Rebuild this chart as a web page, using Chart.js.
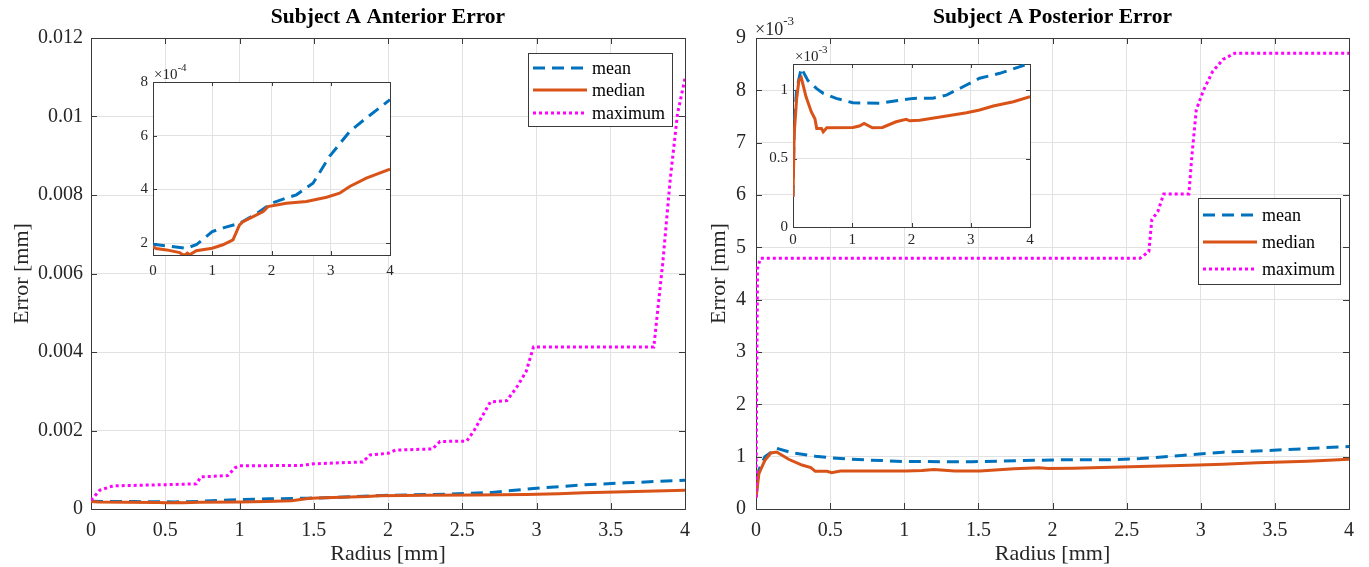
<!DOCTYPE html>
<html><head><meta charset="utf-8">
<script src="https://cdn.jsdelivr.net/npm/chart.js@4.4.1/dist/chart.umd.min.js"></script>
<style>
html,body{margin:0;padding:0;background:#fff;}
#wrap{position:relative;width:1369px;height:567px;overflow:hidden;background:#fff;}
canvas{position:absolute;}
</style></head><body>
<div id="wrap">
<canvas id="antMain" width="700" height="567" style="left:0;top:0"></canvas>
<canvas id="postMain" width="679" height="567" style="left:690px;top:0"></canvas>
<canvas id="antInset" width="290" height="226" style="left:113px;top:56px"></canvas>
<canvas id="postInset" width="279" height="212" style="left:763px;top:40px"></canvas>
</div>
<script>
// ---------- DATA (radius in mm, error in mm) ----------
const seriesNames = ['mean', 'median', 'maximum'];
const titles = ['Subject A Anterior Error', 'Subject A Posterior Error'];
const xAxisTitle = 'Radius [mm]';
const yAxisTitle = 'Error [mm]';

const radiusTicks = [0, 0.5, 1, 1.5, 2, 2.5, 3, 3.5, 4];
const radiusTickLabels = ['0', '0.5', '1', '1.5', '2', '2.5', '3', '3.5', '4'];
const insetRadiusTicks = [0, 1, 2, 3, 4];
const insetRadiusTickLabels = ['0', '1', '2', '3', '4'];

const antErrTicks = [0, 0.002, 0.004, 0.006, 0.008, 0.010, 0.012];
const antErrTickLabels = ['0', '0.002', '0.004', '0.006', '0.008', '0.01', '0.012'];
const postErrTicks = [0, 0.001, 0.002, 0.003, 0.004, 0.005, 0.006, 0.007, 0.008, 0.009];
const postErrTickLabels = ['0', '1', '2', '3', '4', '5', '6', '7', '8', '9'];
const antInsetTicks = [2e-4, 4e-4, 6e-4, 8e-4];
const antInsetTickLabels = ['2', '4', '6', '8'];
const postInsetTicks = [0, 0.5e-3, 1e-3];
const postInsetTickLabels = ['0', '0.5', '1'];

const antRange = [0, 0.012];
const postRange = [0, 0.009];
const antInsetRange = [1.56e-4, 8e-4];
const postInsetRange = [0, 1.19e-3];
const radiusRange = [0, 4];

// Anterior
const antMeanR = [0, 0.3, 0.56, 0.73, 1.0, 1.2, 1.46, 1.75, 2.0, 2.25, 2.42, 2.70, 2.98, 3.32, 3.6, 4.0];
const antMeanE = [1.96e-4, 1.88e-4, 1.81e-4, 1.94e-4, 2.43e-4, 2.58e-4, 2.74e-4, 3.10e-4, 3.49e-4, 3.68e-4, 3.80e-4, 4.23e-4, 5.23e-4, 6.16e-4, 6.66e-4, 7.34e-4];
const antMedR = [0, 0.05, 0.23, 0.45, 0.5, 0.55, 0.58, 0.62, 0.73, 1.0, 1.18, 1.35, 1.46, 1.52, 1.69, 1.86, 1.94, 2.25, 2.59, 2.93, 3.15, 3.32, 3.6, 4.0];
const antMedE = [1.88e-4, 1.80e-4, 1.75e-4, 1.65e-4, 1.57e-4, 1.57e-4, 1.63e-4, 1.57e-4, 1.72e-4, 1.81e-4, 1.94e-4, 2.12e-4, 2.68e-4, 2.80e-4, 2.99e-4, 3.18e-4, 3.36e-4, 3.49e-4, 3.55e-4, 3.71e-4, 3.86e-4, 4.11e-4, 4.42e-4, 4.76e-4];
const antMaxR = [0, 0.06, 0.15, 0.5, 0.71, 0.74, 0.92, 0.97, 1.0, 1.41, 1.5, 1.83, 1.88, 2.0, 2.05, 2.3, 2.35, 2.53, 2.58, 2.62, 2.69, 2.8, 2.87, 2.93, 2.98, 3.79, 3.85, 3.90, 3.95, 4.0];
const antMaxE = [0.00022, 0.00048, 0.00059, 0.00062, 0.00064, 0.00082, 0.00085, 0.00105, 0.00110, 0.00111, 0.00115, 0.00120, 0.00138, 0.00142, 0.00150, 0.00153, 0.00172, 0.00173, 0.00200, 0.00227, 0.00273, 0.00276, 0.00312, 0.00350, 0.00413, 0.00413, 0.00626, 0.00838, 0.01008, 0.01097];

// Posterior
const postMeanR = [0, 0.02, 0.06, 0.14, 0.25, 0.4, 0.51, 0.73, 1.01, 1.46, 2.03, 2.36, 2.59, 2.87, 3.15, 3.49, 4.0];
const postMeanE = [0.22e-3, 0.75e-3, 1.0e-3, 1.16e-3, 1.07e-3, 1.01e-3, 0.976e-3, 0.939e-3, 0.907e-3, 0.903e-3, 0.939e-3, 0.94e-3, 0.963e-3, 1.024e-3, 1.086e-3, 1.122e-3, 1.195e-3];
const postMedR = [0, 0.02, 0.06, 0.1, 0.14, 0.22, 0.31, 0.37, 0.4, 0.48, 0.51, 0.57, 1.01, 1.12, 1.2, 1.34, 1.51, 1.74, 1.91, 1.97, 2.14, 2.59, 2.93, 3.15, 3.38, 3.72, 4.0];
const postMedE = [0.22e-3, 0.68e-3, 0.93e-3, 1.07e-3, 1.09e-3, 0.95e-3, 0.84e-3, 0.79e-3, 0.72e-3, 0.72e-3, 0.695e-3, 0.724e-3, 0.727e-3, 0.737e-3, 0.756e-3, 0.724e-3, 0.727e-3, 0.768e-3, 0.786e-3, 0.775e-3, 0.78e-3, 0.81e-3, 0.834e-3, 0.854e-3, 0.883e-3, 0.914e-3, 0.951e-3];
const postMaxR = [0, 0.005, 0.01, 0.03, 2.59, 2.65, 2.67, 2.71, 2.75, 2.92, 2.94, 2.97, 3.02, 3.08, 3.15, 3.23, 4.0];
const postMaxE = [0.22e-3, 2.5e-3, 4.6e-3, 4.79e-3, 4.79e-3, 4.92e-3, 5.53e-3, 5.68e-3, 6.02e-3, 6.02e-3, 6.74e-3, 7.63e-3, 8.01e-3, 8.36e-3, 8.59e-3, 8.71e-3, 8.71e-3];

// ---------- STYLE / HELPERS ----------
const FONT = "'Liberation Serif', 'Times New Roman', serif";
Chart.defaults.font.family = FONT;
Chart.defaults.color = '#262626';
const COL_MEAN = '#0072BD', COL_MED = '#D95319', COL_MAX = '#FF00FF';
const GRID = '#e2e2e2', AXIS = '#3a3a3a';

const pts = (xs, ys) => xs.map((x, i) => ({ x: x, y: ys[i] }));
function meanDs(xs, ys) { return { label: seriesNames[0], data: pts(xs, ys), borderColor: COL_MEAN, borderWidth: 3, borderDash: [12, 7], order: 3 }; }
function medDs(xs, ys) { return { label: seriesNames[1], data: pts(xs, ys), borderColor: COL_MED, borderWidth: 3, order: 2 }; }
function maxDs(xs, ys) { return { label: seriesNames[2], data: pts(xs, ys), borderColor: COL_MAX, borderWidth: 3, borderDash: [3, 3], borderCapStyle: 'butt', order: 1 }; }

const axesBox = {
  id: 'axesBox',
  beforeDraw(chart, args, o) {
    if (!o.fill) return;
    const a = chart.chartArea, ctx = chart.ctx;
    ctx.save(); ctx.fillStyle = '#fff'; ctx.fillRect(a.left, a.top, a.width, a.height); ctx.restore();
  },
  beforeDatasetsDraw(chart, args, o) {
    const { ctx, chartArea: a, scales } = chart;
    const L = o.tick || 6;
    ctx.save();
    ctx.strokeStyle = AXIS; ctx.lineWidth = 1;
    ctx.beginPath();
    scales.x.ticks.forEach(t => {
      const px = Math.round(scales.x.getPixelForValue(t.value)) + 0.5;
      ctx.moveTo(px, a.bottom); ctx.lineTo(px, a.bottom - L);
      ctx.moveTo(px, a.top); ctx.lineTo(px, a.top + L);
    });
    scales.y.ticks.forEach(t => {
      const py = Math.round(scales.y.getPixelForValue(t.value)) + 0.5;
      ctx.moveTo(a.left, py); ctx.lineTo(a.left + L, py);
      ctx.moveTo(a.right, py); ctx.lineTo(a.right - L, py);
    });
    ctx.stroke();
    ctx.strokeRect(Math.round(a.left) + 0.5, Math.round(a.top) + 0.5, Math.round(a.width), Math.round(a.height));
    ctx.restore();
  }
};

const expLabel = {
  id: 'expLabel',
  afterDraw(chart, args, o) {
    if (!o.base) return;
    const { ctx, chartArea: a } = chart;
    ctx.save();
    ctx.fillStyle = '#262626';
    ctx.textBaseline = 'alphabetic'; ctx.textAlign = 'left';
    ctx.font = o.size + 'px ' + FONT;
    const x = a.left + o.dx, y = a.top - o.dy;
    ctx.fillText(o.base, x, y);
    const w = ctx.measureText(o.base).width;
    ctx.font = o.expSize + 'px ' + FONT;
    ctx.fillText(o.exp, x + w, y - o.size * 0.55);
    ctx.restore();
  }
};

const boxLegend = {
  id: 'boxLegend',
  afterDraw(chart, args, o) {
    if (!o.display) return;
    const ctx = chart.ctx;
    ctx.save();
    ctx.fillStyle = '#fff';
    ctx.fillRect(o.x, o.y, o.w, o.h);
    ctx.strokeStyle = AXIS; ctx.lineWidth = 1;
    ctx.strokeRect(o.x + 0.5, o.y + 0.5, o.w, o.h);
    chart.data.datasets.forEach((ds, i) => {
      const ry = o.rows[i];
      ctx.beginPath();
      ctx.strokeStyle = ds.borderColor; ctx.lineWidth = ds.borderWidth;
      ctx.lineCap = ds.borderCapStyle || 'butt';
      ctx.setLineDash(ds.borderDash || []);
      ctx.moveTo(o.s0, ry); ctx.lineTo(o.s1, ry); ctx.stroke();
      ctx.setLineDash([]);
      ctx.fillStyle = '#000';
      ctx.font = o.size + 'px ' + FONT;
      ctx.textBaseline = 'middle'; ctx.textAlign = 'left';
      ctx.fillText(ds.label, o.tx, ry + 1);
    });
    ctx.restore();
  }
};

function setTicks(vals) { return s => { s.ticks = vals.map(v => ({ value: v })); }; }
function labelsFrom(labels) { return (v, i) => labels[i]; }

function scaleX(o) {
  return {
    type: 'linear', min: radiusRange[0], max: radiusRange[1],
    afterBuildTicks: setTicks(o.ticks),
    ticks: { callback: labelsFrom(o.labels), font: { size: o.font }, padding: o.pad, maxRotation: 0, autoSkip: false, color: '#262626' },
    grid: { color: GRID, drawTicks: false, lineWidth: 1 },
    border: { display: false },
    title: o.title ? { display: true, text: o.title, font: { size: 22 }, padding: { top: 0, bottom: 0 }, color: '#262626' } : { display: false },
    afterFit: s => { s.height = o.h; }
  };
}
function scaleY(o) {
  return {
    type: 'linear', min: o.range[0], max: o.range[1],
    afterBuildTicks: setTicks(o.ticks),
    ticks: { callback: labelsFrom(o.labels), font: { size: o.font }, padding: o.pad, autoSkip: false, color: '#262626' },
    grid: { color: GRID, drawTicks: false, lineWidth: 1 },
    border: { display: false },
    title: o.title ? { display: true, text: o.title, font: { size: 22 }, padding: { top: o.tpad, bottom: 0 }, color: '#262626' } : { display: false },
    afterFit: s => { s.width = o.w; }
  };
}

function makeChart(id, datasets, opts) {
  return new Chart(document.getElementById(id), {
    type: 'line',
    data: { datasets: datasets },
    plugins: [axesBox, expLabel, boxLegend],
    options: {
      responsive: false, maintainAspectRatio: false, animation: false, devicePixelRatio: 1,
      events: [],
      elements: { point: { radius: 0 }, line: { tension: 0, fill: false } },
      layout: { padding: opts.padding },
      scales: { x: opts.x, y: opts.y },
      plugins: {
        legend: { display: false }, tooltip: { enabled: false },
        title: opts.title ? { display: true, text: opts.title, fullSize: false, font: { size: 21.5, weight: 'bold' }, color: '#000', padding: { top: 5, bottom: 7.2 } } : { display: false },
        axesBox: { fill: !!opts.fill, tick: opts.tick },
        expLabel: opts.exp || {},
        boxLegend: opts.legend || { display: false }
      }
    }
  });
}

// ---------- CHARTS ----------
makeChart('antMain', [meanDs(antMeanR, antMeanE), medDs(antMedR, antMedE), maxDs(antMaxR, antMaxE)], {
  padding: { left: 0, right: 14, top: 0, bottom: 0 },
  title: titles[0], tick: 6,
  x: scaleX({ ticks: radiusTicks, labels: radiusTickLabels, font: 20, pad: 10, h: 58, title: xAxisTitle }),
  y: scaleY({ range: antRange, ticks: antErrTicks, labels: antErrTickLabels, font: 20, pad: 8, w: 91, title: yAxisTitle, tpad: 9 }),
  legend: { display: true, x: 528, y: 53, w: 144, h: 73, rows: [68, 90, 113], s0: 533, s1: 587, tx: 592, size: 18 }
});

makeChart('postMain', [meanDs(postMeanR, postMeanE), medDs(postMedR, postMedE), maxDs(postMaxR, postMaxE)], {
  padding: { left: 0, right: 20, top: 0, bottom: 0 },
  title: titles[1], tick: 6,
  x: scaleX({ ticks: radiusTicks, labels: radiusTickLabels, font: 20, pad: 10, h: 58, title: xAxisTitle }),
  y: scaleY({ range: postRange, ticks: postErrTicks, labels: postErrTickLabels, font: 20, pad: 10, w: 66, title: yAxisTitle, tpad: 16 }),
  exp: { base: '\u00d710', exp: '-3', size: 18, expSize: 13, dx: -1, dy: 3 },
  legend: { display: true, x: 508, y: 198, w: 142, h: 86, rows: [215, 242, 269], s0: 513, s1: 567, tx: 572, size: 18 }
});

makeChart('antInset', [meanDs(antMeanR, antMeanE), medDs(antMedR, antMedE)], {
  padding: { left: 0, right: 13, top: 26, bottom: 0 },
  fill: true, tick: 4,
  x: scaleX({ ticks: insetRadiusTicks, labels: insetRadiusTickLabels, font: 15, pad: 7, h: 27 }),
  y: scaleY({ range: antInsetRange, ticks: antInsetTicks, labels: antInsetTickLabels, font: 15, pad: 5, w: 40 }),
  exp: { base: '\u00d710', exp: '-4', size: 15, expSize: 11, dx: 1, dy: 3 }
});

makeChart('postInset', [meanDs(postMeanR, postMeanE), medDs(postMedR, postMedE)], {
  padding: { left: 0, right: 12, top: 24, bottom: 0 },
  fill: true, tick: 4,
  x: scaleX({ ticks: insetRadiusTicks, labels: insetRadiusTickLabels, font: 15, pad: 4, h: 25 }),
  y: scaleY({ range: postInsetRange, ticks: postInsetTicks, labels: postInsetTickLabels, font: 15, pad: 5, w: 30 }),
  exp: { base: '\u00d710', exp: '-3', size: 15, expSize: 11, dx: 2, dy: 3 }
});
</script>
</body></html>
